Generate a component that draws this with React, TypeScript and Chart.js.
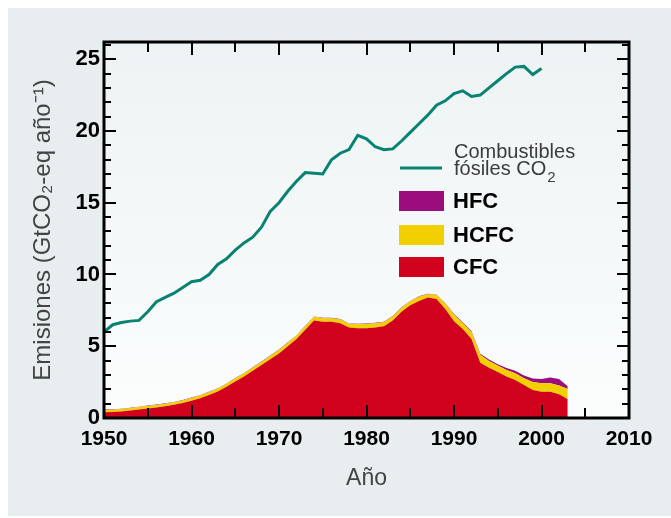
import React, { useEffect, useRef } from "react";
import { Chart, registerables } from "chart.js";

Chart.register(...registerables);

// ---- data ----
const years = [
  1950, 1951, 1952, 1953, 1954, 1955, 1956, 1957, 1958, 1959,
  1960, 1961, 1962, 1963, 1964, 1965, 1966, 1967, 1968, 1969,
  1970, 1971, 1972, 1973, 1974, 1975, 1976, 1977, 1978, 1979,
  1980, 1981, 1982, 1983, 1984, 1985, 1986, 1987, 1988, 1989,
  1990, 1991, 1992, 1993, 1994, 1995, 1996, 1997, 1998, 1999,
  2000, 2001, 2002, 2003,
];

// Combustibles fósiles CO2 (1950–2000)
const co2Fossil = [
  6.0, 6.5, 6.65, 6.75, 6.8, 7.4, 8.1, 8.4, 8.7, 9.1,
  9.5, 9.6, 10.0, 10.7, 11.1, 11.7, 12.2, 12.6, 13.3, 14.4,
  15.0, 15.8, 16.5, 17.1, 17.05, 17.0, 18.0, 18.45, 18.7, 19.7,
  19.45, 18.9, 18.7, 18.75, 19.3, 19.9, 20.5, 21.1, 21.8, 22.1,
  22.6, 22.8, 22.4, 22.5, 23.0, 23.5, 24.0, 24.45, 24.5, 23.93,
  24.35,
];

const cfc = [
  0.4, 0.42, 0.46, 0.52, 0.6, 0.67, 0.74, 0.82, 0.92, 1.05,
  1.2, 1.38, 1.6, 1.85, 2.18, 2.55, 2.9, 3.3, 3.7, 4.1,
  4.5, 5.0, 5.5, 6.15, 6.8, 6.7, 6.7, 6.6, 6.3, 6.25,
  6.25, 6.3, 6.4, 6.8, 7.4, 7.85, 8.15, 8.4, 8.3, 7.6,
  6.75, 6.2, 5.5, 3.85, 3.5, 3.2, 2.9, 2.65, 2.3, 1.95,
  1.83, 1.83, 1.65, 1.3,
];

const hcfc = [
  0.16, 0.16, 0.16, 0.16, 0.16, 0.17, 0.17, 0.17, 0.17, 0.17,
  0.2, 0.2, 0.2, 0.2, 0.2, 0.21, 0.21, 0.21, 0.21, 0.22,
  0.24, 0.24, 0.24, 0.25, 0.25, 0.25, 0.25, 0.26, 0.26, 0.28,
  0.3, 0.3, 0.28, 0.28, 0.28, 0.28, 0.3, 0.22, 0.28, 0.36,
  0.45, 0.42, 0.48, 0.55, 0.48, 0.45, 0.45, 0.46, 0.47, 0.55,
  0.59, 0.59, 0.62, 0.72,
];

const hfc = [
  0.03, 0.03, 0.03, 0.03, 0.03, 0.03, 0.03, 0.03, 0.03, 0.03,
  0.03, 0.03, 0.03, 0.03, 0.03, 0.03, 0.03, 0.03, 0.03, 0.03,
  0.03, 0.03, 0.03, 0.03, 0.03, 0.03, 0.03, 0.03, 0.03, 0.03,
  0.03, 0.03, 0.03, 0.03, 0.03, 0.03, 0.03, 0.03, 0.03, 0.03,
  0.05, 0.06, 0.07, 0.08, 0.09, 0.1, 0.14, 0.19, 0.2, 0.25,
  0.3, 0.4, 0.45, 0.2,
];

const xTickLabels = ["1950", "1960", "1970", "1980", "1990", "2000", "2010"];
const yTickLabels = ["0", "5", "10", "15", "20", "25"];

const seriesLabels = {
  co2: ["Combustibles", "fósiles CO", "2"],
  hfc: "HFC",
  hcfc: "HCFC",
  cfc: "CFC",
};

const colors = {
  co2: "#0a8272",
  hfc: "#9b0c7c",
  hcfc: "#f2d000",
  cfc: "#d0021e",
};

const X_MIN = Number(xTickLabels[0]);
const X_MAX = Number(xTickLabels[xTickLabels.length - 1]);
const Y_MIN = 0;
const Y_MAX = 26.2;

const FONT = '"Liberation Sans", Arial, Helvetica, sans-serif';

const framePlugin = {
  id: "framePlugin",
  beforeDraw(chart: any) {
    const { ctx, chartArea: a } = chart;
    ctx.save();
    const g = ctx.createLinearGradient(0, a.top, 0, a.bottom);
    g.addColorStop(0, "#edf3f4");
    g.addColorStop(1, "#fbfdfd");
    ctx.fillStyle = g;
    ctx.fillRect(a.left, a.top, a.right - a.left, a.bottom - a.top);
    ctx.restore();
  },
  afterDatasetsDraw(chart: any) {
    const { ctx, chartArea: a, scales } = chart;
    const x = scales.x;
    const y = scales.y;
    ctx.save();
    ctx.strokeStyle = "#000";
    ctx.lineWidth = 2;
    ctx.beginPath();
    for (let v = X_MIN + 5; v < X_MAX; v += 5) {
      const px = Math.round(x.getPixelForValue(v));
      const len = v % 10 === 0 ? 13 : 10;
      ctx.moveTo(px, a.bottom);
      ctx.lineTo(px, a.bottom - len);
      ctx.moveTo(px, a.top);
      ctx.lineTo(px, a.top + len);
    }
    for (let v = 1; v <= 26; v += 1) {
      const py = Math.round(y.getPixelForValue(v));
      const len = v % 5 === 0 ? 12 : 7;
      ctx.moveTo(a.left, py);
      ctx.lineTo(a.left + len, py);
      ctx.moveTo(a.right, py);
      ctx.lineTo(a.right - len, py);
    }
    ctx.stroke();
    ctx.lineWidth = 3;
    ctx.strokeRect(a.left, a.top, a.right - a.left, a.bottom - a.top);
    ctx.restore();
  },
  afterDraw(chart: any) {
    const { ctx } = chart;
    ctx.save();
    // CO2 legend
    ctx.strokeStyle = colors.co2;
    ctx.lineWidth = 3;
    ctx.beginPath();
    ctx.moveTo(392, 160);
    ctx.lineTo(434, 160);
    ctx.stroke();
    ctx.fillStyle = "#3c3c3c";
    ctx.font = `20px ${FONT}`;
    ctx.textBaseline = "alphabetic";
    ctx.textAlign = "left";
    ctx.fillText(seriesLabels.co2[0], 446, 150);
    ctx.fillText(seriesLabels.co2[1], 446, 167);
    const w = ctx.measureText(seriesLabels.co2[1]).width;
    ctx.font = `15px ${FONT}`;
    ctx.fillText(seriesLabels.co2[2], 446 + w + 1, 174);
    // boxes
    const items = [
      { label: seriesLabels.hfc, color: colors.hfc, top: 183 },
      { label: seriesLabels.hcfc, color: colors.hcfc, top: 217 },
      { label: seriesLabels.cfc, color: colors.cfc, top: 249 },
    ];
    ctx.font = `bold 22px ${FONT}`;
    ctx.textBaseline = "middle";
    for (const it of items) {
      ctx.fillStyle = it.color;
      ctx.fillRect(391, it.top, 45, 20);
      ctx.fillStyle = "#000";
      ctx.fillText(it.label, 445, it.top + 11);
    }
    ctx.restore();
  },
};

export default function App() {
  const ref = useRef<HTMLCanvasElement | null>(null);

  useEffect(() => {
    if (!ref.current) return;
    const toPts = (vals: number[]) => vals.map((v, i) => ({ x: years[i], y: v }));
    const chart = new Chart(ref.current, {
      type: "line",
      data: {
        datasets: [
          {
            label: "Combustibles fósiles CO2",
            data: toPts(co2Fossil),
            borderColor: colors.co2,
            borderWidth: 3,
            pointRadius: 0,
            fill: false,
            stack: "co2",
          },
          {
            label: seriesLabels.cfc,
            data: toPts(cfc),
            borderWidth: 0,
            borderColor: colors.cfc,
            backgroundColor: colors.cfc,
            pointRadius: 0,
            fill: "origin",
            stack: "gases",
          },
          {
            label: seriesLabels.hcfc,
            data: toPts(hcfc),
            borderWidth: 0,
            borderColor: colors.hcfc,
            backgroundColor: colors.hcfc,
            pointRadius: 0,
            fill: "-1",
            stack: "gases",
          },
          {
            label: seriesLabels.hfc,
            data: toPts(hfc),
            borderWidth: 0,
            borderColor: colors.hfc,
            backgroundColor: colors.hfc,
            pointRadius: 0,
            fill: "-1",
            stack: "gases",
          },
        ],
      },
      options: {
        animation: false,
        responsive: false,
        layout: { padding: { left: 0, top: 34, right: 42, bottom: 0 } },
        plugins: {
          legend: { display: false },
          tooltip: { enabled: false },
        },
        scales: {
          x: {
            type: "linear",
            min: X_MIN,
            max: X_MAX,
            grid: { display: false, drawTicks: false },
            border: { display: false },
            ticks: {
              stepSize: 10,
              includeBounds: false,
              padding: 9,
              color: "#000",
              font: { family: FONT, size: 21, weight: "bold" },
              callback: (v: any) => (xTickLabels.includes(String(v)) ? String(v) : ""),
              maxRotation: 0,
              autoSkip: false,
            },
            title: {
              display: true,
              text: "Año",
              color: "#444",
              font: { family: FONT, size: 23 },
              padding: { top: 0, bottom: 24 },
            },
            afterFit: (s: any) => {
              s.height = 98;
            },
          },
          y: {
            type: "linear",
            stacked: true,
            min: Y_MIN,
            max: Y_MAX,
            grid: { display: false, drawTicks: false },
            border: { display: false },
            ticks: {
              stepSize: 5,
              includeBounds: false,
              padding: 4,
              color: "#000",
              font: { family: FONT, size: 22, weight: "bold" },
              callback: (v: any) => (yTickLabels.includes(String(v)) ? String(v) : ""),
              autoSkip: false,
            },
            title: {
              display: true,
              text: "Emisiones (GtCO₂-eq año⁻¹)",
              color: "#444",
              font: { family: FONT, size: 24 },
              padding: { top: 21, bottom: 0 },
            },
            afterFit: (s: any) => {
              s.width = 96;
            },
          },
        },
      },
      plugins: [framePlugin],
    });
    return () => chart.destroy();
  }, []);

  return (
    <div
      style={{
        position: "fixed",
        left: 8,
        top: 8,
        width: 663,
        height: 508,
        background: "#e8eef0",
      }}
    >
      <canvas ref={ref} width={663} height={508} style={{ display: "block" }} />
    </div>
  );
}
